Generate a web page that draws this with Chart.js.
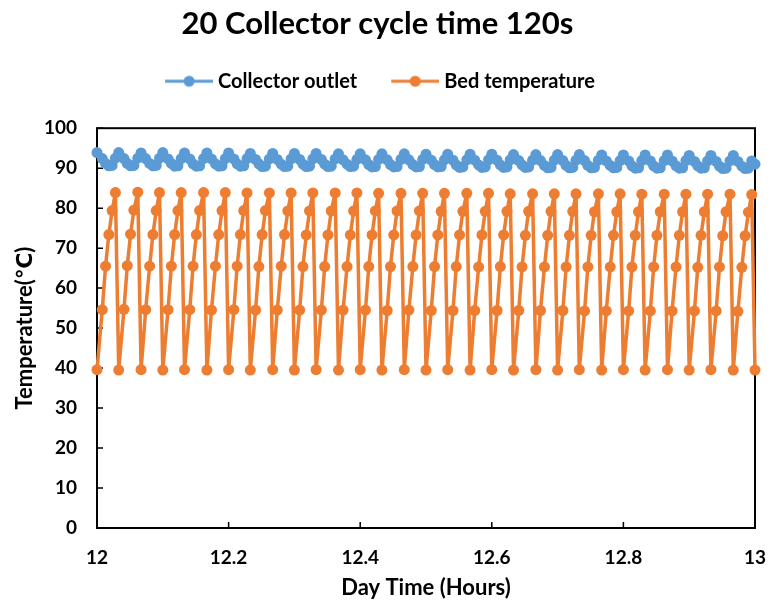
<!DOCTYPE html>
<html>
<head>
<meta charset="utf-8">
<script src="https://cdn.jsdelivr.net/npm/chart.js@4.4.1/dist/chart.umd.min.js"></script>
<style>
  body { margin: 0; background: #fff; }
  #wrap { width: 770px; height: 604px; }
</style>
</head>
<body>
<div id="wrap"><canvas id="chart" width="770" height="604"></canvas></div>
<script>
// ======================
// DATA
// ======================
const chartTitle = "20 Collector cycle time 120s";
const seriesNames = ["Collector outlet", "Bed temperature"];
const seriesColors = ["#5B9BD5", "#ED7D31"];

// sample times, hours (6 samples per 120 s cycle)
const hours = [
    12.000, 12.008, 12.013, 12.018, 12.023, 12.028,
    12.033, 12.041, 12.046, 12.051, 12.056, 12.062,
    12.067, 12.074, 12.080, 12.085, 12.090, 12.095,
    12.100, 12.108, 12.113, 12.118, 12.123, 12.128,
    12.133, 12.141, 12.146, 12.151, 12.156, 12.162,
    12.167, 12.174, 12.180, 12.185, 12.190, 12.195,
    12.200, 12.208, 12.213, 12.218, 12.223, 12.228,
    12.233, 12.241, 12.246, 12.251, 12.256, 12.262,
    12.267, 12.274, 12.280, 12.285, 12.290, 12.295,
    12.300, 12.308, 12.313, 12.318, 12.323, 12.328,
    12.333, 12.341, 12.346, 12.351, 12.356, 12.362,
    12.367, 12.374, 12.380, 12.385, 12.390, 12.395,
    12.400, 12.408, 12.413, 12.418, 12.423, 12.428,
    12.433, 12.441, 12.446, 12.451, 12.456, 12.462,
    12.467, 12.474, 12.480, 12.485, 12.490, 12.495,
    12.500, 12.508, 12.513, 12.518, 12.523, 12.528,
    12.533, 12.541, 12.546, 12.551, 12.556, 12.562,
    12.567, 12.574, 12.580, 12.585, 12.590, 12.595,
    12.600, 12.608, 12.613, 12.618, 12.623, 12.628,
    12.633, 12.641, 12.646, 12.651, 12.656, 12.662,
    12.667, 12.674, 12.680, 12.685, 12.690, 12.695,
    12.700, 12.708, 12.713, 12.718, 12.723, 12.728,
    12.733, 12.741, 12.746, 12.751, 12.756, 12.762,
    12.767, 12.774, 12.780, 12.785, 12.790, 12.795,
    12.800, 12.808, 12.813, 12.818, 12.823, 12.828,
    12.833, 12.841, 12.846, 12.851, 12.856, 12.862,
    12.867, 12.874, 12.880, 12.885, 12.890, 12.895,
    12.900, 12.908, 12.913, 12.918, 12.923, 12.928,
    12.933, 12.941, 12.946, 12.951, 12.956, 12.962,
    12.967, 12.974, 12.980, 12.985, 12.990, 12.995,
    13.000
];

const collectorOutlet = [
    93.9, 92.4, 91.2, 90.6, 90.7, 92.5,
    93.9, 92.4, 91.2, 90.6, 90.7, 92.5,
    93.8, 92.4, 91.2, 90.6, 90.7, 92.5,
    93.9, 92.3, 91.2, 90.5, 90.6, 92.4,
    93.8, 92.3, 91.1, 90.5, 90.6, 92.4,
    93.8, 92.3, 91.1, 90.5, 90.6, 92.4,
    93.8, 92.3, 91.1, 90.5, 90.6, 92.4,
    93.7, 92.2, 91.1, 90.4, 90.5, 92.3,
    93.7, 92.2, 91.0, 90.4, 90.5, 92.3,
    93.7, 92.2, 91.0, 90.4, 90.5, 92.3,
    93.7, 92.2, 91.0, 90.4, 90.5, 92.3,
    93.6, 92.1, 91.0, 90.4, 90.5, 92.2,
    93.6, 92.1, 90.9, 90.3, 90.4, 92.2,
    93.6, 92.1, 90.9, 90.3, 90.4, 92.2,
    93.6, 92.1, 90.9, 90.3, 90.4, 92.2,
    93.5, 92.0, 90.9, 90.3, 90.4, 92.1,
    93.5, 92.0, 90.8, 90.2, 90.3, 92.1,
    93.5, 92.0, 90.8, 90.2, 90.3, 92.1,
    93.5, 92.0, 90.8, 90.2, 90.3, 92.1,
    93.4, 91.9, 90.8, 90.2, 90.3, 92.0,
    93.4, 91.9, 90.7, 90.1, 90.2, 92.0,
    93.4, 91.9, 90.7, 90.1, 90.2, 92.0,
    93.4, 91.9, 90.7, 90.1, 90.2, 92.0,
    93.3, 91.8, 90.7, 90.1, 90.2, 91.9,
    93.3, 91.8, 90.6, 90.0, 90.1, 91.9,
    93.3, 91.8, 90.6, 90.0, 90.1, 91.9,
    93.3, 91.8, 90.6, 90.0, 90.1, 91.9,
    93.2, 91.7, 90.6, 90.0, 90.1, 91.8,
    93.2, 91.7, 90.5, 89.9, 90.0, 91.8,
    93.2, 91.7, 90.5, 89.9, 90.0, 91.8,
    91.0
];

const bedTemperature = [
    39.6, 54.6, 65.5, 73.4, 79.4, 83.9,
    39.5, 54.7, 65.6, 73.5, 79.5, 84.0,
    39.6, 54.6, 65.5, 73.4, 79.4, 83.9,
    39.5, 54.6, 65.5, 73.4, 79.4, 83.9,
    39.6, 54.6, 65.5, 73.4, 79.4, 83.9,
    39.5, 54.5, 65.5, 73.4, 79.4, 83.9,
    39.6, 54.6, 65.5, 73.4, 79.4, 83.8,
    39.5, 54.5, 65.4, 73.4, 79.4, 83.8,
    39.6, 54.5, 65.5, 73.4, 79.3, 83.8,
    39.5, 54.5, 65.4, 73.3, 79.3, 83.8,
    39.6, 54.5, 65.4, 73.3, 79.3, 83.8,
    39.5, 54.5, 65.4, 73.3, 79.3, 83.8,
    39.6, 54.5, 65.4, 73.3, 79.3, 83.7,
    39.5, 54.4, 65.4, 73.3, 79.3, 83.7,
    39.6, 54.5, 65.4, 73.3, 79.3, 83.7,
    39.5, 54.4, 65.4, 73.3, 79.2, 83.7,
    39.6, 54.4, 65.4, 73.3, 79.2, 83.7,
    39.5, 54.4, 65.3, 73.3, 79.2, 83.7,
    39.6, 54.4, 65.4, 73.3, 79.2, 83.6,
    39.5, 54.4, 65.3, 73.2, 79.2, 83.6,
    39.6, 54.4, 65.3, 73.2, 79.2, 83.6,
    39.5, 54.4, 65.3, 73.2, 79.2, 83.6,
    39.6, 54.3, 65.3, 73.2, 79.1, 83.6,
    39.5, 54.3, 65.3, 73.2, 79.1, 83.6,
    39.6, 54.3, 65.3, 73.2, 79.1, 83.5,
    39.5, 54.3, 65.3, 73.2, 79.1, 83.5,
    39.6, 54.3, 65.3, 73.2, 79.1, 83.5,
    39.5, 54.3, 65.2, 73.2, 79.1, 83.5,
    39.6, 54.3, 65.3, 73.1, 79.1, 83.5,
    39.5, 54.2, 65.2, 73.1, 79.0, 83.4,
    39.5
];

const xMin = 12, xMax = 13, xStep = 0.2;
const yMin = 0, yMax = 100, yStep = 10;


// ======================
// HELPERS
// ======================
Chart.defaults.font.family = "Lato, 'Open Sans', 'DejaVu Sans', sans-serif";
Chart.defaults.color = "#000";

// line-with-dot legend icon (blank strip on the left so the line sits close to the text)
function legendIcon(color) {
    const c = document.createElement("canvas");
    c.width = 58;
    c.height = 14;
    const g = c.getContext("2d");
    g.strokeStyle = color;
    g.lineWidth = 3;
    g.beginPath();
    g.moveTo(10, 7);
    g.lineTo(58, 7);
    g.stroke();
    g.fillStyle = color;
    g.beginPath();
    g.arc(34, 7, 5.5, 0, Math.PI * 2);
    g.fill();
    return c;
}

// box round the plot + inward tick marks
const framePlugin = {
    id: "frame",
    beforeDatasetsDraw(chart) {
        const { ctx, chartArea: a, scales: { x, y } } = chart;
        ctx.save();
        ctx.strokeStyle = "#000";
        ctx.lineWidth = 2;
        ctx.strokeRect(a.left, a.top, a.right - a.left, a.bottom - a.top);
        ctx.lineWidth = 1.5;
        ctx.beginPath();
        y.ticks.forEach(t => {
            const py = y.getPixelForValue(t.value);
            ctx.moveTo(a.left, py);
            ctx.lineTo(a.left + 6, py);
        });
        x.ticks.forEach(t => {
            const px = x.getPixelForValue(t.value);
            ctx.moveTo(px, a.bottom);
            ctx.lineTo(px, a.bottom - 6);
        });
        ctx.stroke();
        ctx.restore();
    }
};

// extra room under the legend
const legendGap = {
    id: "legendGap",
    beforeInit(chart) {
        const fit = chart.legend.fit;
        chart.legend.fit = function () {
            fit.call(this);
            this.height += 27;
        };
    }
};

function makeSeries(values, i) {
    return {
        label: seriesNames[i],
        data: hours.map((h, k) => ({ x: h, y: values[k] })),
        borderColor: seriesColors[i],
        backgroundColor: seriesColors[i],
        borderWidth: 3.5,
        borderJoinStyle: "round",
        pointRadius: 5.5,
        pointHoverRadius: 5.5,
        pointBorderWidth: 0,
        tension: 0,
        clip: false
    };
}


// ======================
// CHART
// ======================
new Chart(document.getElementById("chart"), {
    type: "line",
    data: {
        datasets: [
            makeSeries(collectorOutlet, 0),
            makeSeries(bedTemperature, 1)
        ]
    },
    plugins: [framePlugin, legendGap],
    options: {
        responsive: false,
        animation: false,
        events: [],
        layout: { padding: { left: 0, right: 15, top: 0, bottom: 3 } },
        plugins: {
            title: {
                display: true,
                text: chartTitle,
                font: { size: 31, weight: "bold" },
                color: "#000",
                padding: { top: 5, bottom: 0 }
            },
            legend: {
                display: true,
                labels: {
                    usePointStyle: true,
                    pointStyleWidth: 48,
                    padding: 29,
                    color: "#000",
                    font: { size: 20, weight: "bold" },
                    generateLabels(chart) {
                        const items = Chart.defaults.plugins.legend.labels.generateLabels(chart);
                        items.forEach((it, i) => { it.pointStyle = legendIcon(seriesColors[i]); });
                        return items;
                    }
                }
            },
            tooltip: { enabled: false }
        },
        scales: {
            x: {
                type: "linear",
                min: xMin,
                max: xMax,
                grid: { display: false, drawTicks: false },
                border: { display: false },
                ticks: {
                    stepSize: xStep,
                    padding: 18,
                    maxRotation: 0,
                    font: { size: 19, weight: "bold" },
                    color: "#000",
                    callback: v => String(Math.round(v * 10) / 10)
                },
                title: {
                    display: true,
                    text: "Day Time (Hours)",
                    font: { size: 22, weight: "bold" },
                    color: "#000",
                    padding: { top: 0, bottom: 0 }
                },
                afterFit(scale) {
                    scale.height = 73;
                    scale.paddingLeft = 0;
                    scale.paddingRight = 0;
                }
            },
            y: {
                min: yMin,
                max: yMax,
                grid: { display: false, drawTicks: false },
                border: { display: false },
                ticks: {
                    stepSize: yStep,
                    padding: 20,
                    font: { size: 19, weight: "bold" },
                    color: "#000"
                },
                title: {
                    display: true,
                    text: "Temperature(℃)",
                    font: { size: 22, weight: "bold" },
                    color: "#000",
                    padding: { top: 12, bottom: 0 }
                },
                afterFit(scale) { scale.width = 97; }
            }
        }
    }
});
</script>
</body>
</html>
